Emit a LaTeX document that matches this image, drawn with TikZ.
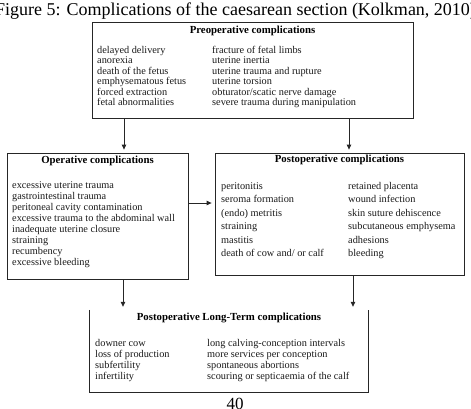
\documentclass[tikz,border=0pt]{standalone}
\usepackage{fontspec}
\setmainfont{Liberation Serif}
\usetikzlibrary{arrows.meta,calc}
\begin{document}
\begin{tikzpicture}[x=1pt,y=-1pt,
  box/.style={draw=black!85, line width=0.8pt, inner sep=0pt},
  boxline/.style={draw=black!85, line width=0.8pt},
  hd/.style={font=\fontsize{10.8}{12}\selectfont\bfseries, inner sep=0pt, text=black},
  it/.style={font=\fontsize{10.3}{12}\selectfont, anchor=base west, inner sep=0pt, text=black!90},
  arr/.style={draw=black!85, line width=0.8pt, -{Triangle[length=5pt,width=4.5pt]}}]
\useasboundingbox (0,0) rectangle (471,408);
% title
\node[font=\fontsize{18}{20}\selectfont, anchor=base, inner sep=0pt] (title) at (235.5,15) {Figure 5: Complications of the caesarean section (Kolkman, 2010)};
% boxes
\node[box, minimum width=321pt, minimum height=96pt] (pre) at (252.5,70) {};
\node[box, minimum width=181pt, minimum height=126pt] (op) at (97.5,216) {};
\node[box, minimum width=249pt, minimum height=122pt] (post) at (339.5,214) {};
\node[inner sep=0pt, minimum width=278pt, minimum height=82pt] (lt) at (229,351) {};
\draw[boxline] (lt.north west) -- (lt.south west) -- (lt.south east) -- (lt.north east);
% headers
\node[hd] (preh) at (252.5,30.5) {Preoperative complications};
\node[hd] (oph) at (97.5,161) {Operative complications};
\node[hd] (posth) at (339.5,160) {Postoperative complications};
\node[hd] (lth) at (229,318) {Postoperative Long-Term complications};
% preoperative items
\foreach \t [count=\i] in {delayed delivery, anorexia, death of the fetus, emphysematous fetus, forced extraction, fetal abnormalities}
  \node[it] (pa\i) at (97,{53.5+10.4*(\i-1)}) {\t};
\foreach \t [count=\i] in {fracture of fetal limbs, uterine inertia, uterine trauma and rupture, uterine torsion, obturator/scatic nerve damage, severe trauma during manipulation}
  \node[it] (pb\i) at (212,{53.5+10.4*(\i-1)}) {\t};
% operative items
\foreach \t [count=\i] in {excessive uterine trauma, gastrointestinal trauma, peritoneal cavity contamination, excessive trauma to the abdominal wall, inadequate uterine closure, straining, recumbency, excessive bleeding}
  \node[it] (oa\i) at (12,{188+11.1*(\i-1)}) {\t};
% postoperative items
\foreach \t [count=\i] in {peritonitis, seroma formation, (endo) metritis, straining, mastitis, death of cow and/ or calf}
  \node[it] (qa\i) at (221,{189.5+13.4*(\i-1)}) {\t};
\foreach \t [count=\i] in {retained placenta, wound infection, skin suture dehiscence, subcutaneous emphysema, adhesions, bleeding}
  \node[it] (qb\i) at (348,{189.5+13.4*(\i-1)}) {\t};
% long-term items
\foreach \t [count=\i] in {downer cow, loss of production, subfertility, infertility}
  \node[it] (la\i) at (95,{346.5+11*(\i-1)}) {\t};
\foreach \t [count=\i] in {long calving-conception intervals, more services per conception, spontaneous abortions, scouring or septicaemia of the calf}
  \node[it] (lb\i) at (207,{346.5+11*(\i-1)}) {\t};
% connectors
\coordinate (xa) at (124,0);
\coordinate (xb) at (349,0);
\coordinate (xc) at (123,0);
\coordinate (xd) at (353,0);
\coordinate (yh) at (0,203);
\draw[arr, shorten >=3pt] (pre.south -| xa) -- (op.north -| xa);
\draw[arr, shorten >=3pt] (pre.south -| xb) -- (post.north -| xb);
\draw[arr, shorten >=3pt] (op.east |- yh) -- (post.west |- yh);
\draw[arr, shorten >=3pt] (op.south -| xc) -- (lt.north -| xc);
\draw[arr, shorten >=3pt] (post.south -| xd) -- (lt.north -| xd);
% page number
\node[font=\fontsize{17}{18}\selectfont, anchor=base, inner sep=0pt] (pg) at (235,409) {40};
\end{tikzpicture}
\end{document}
